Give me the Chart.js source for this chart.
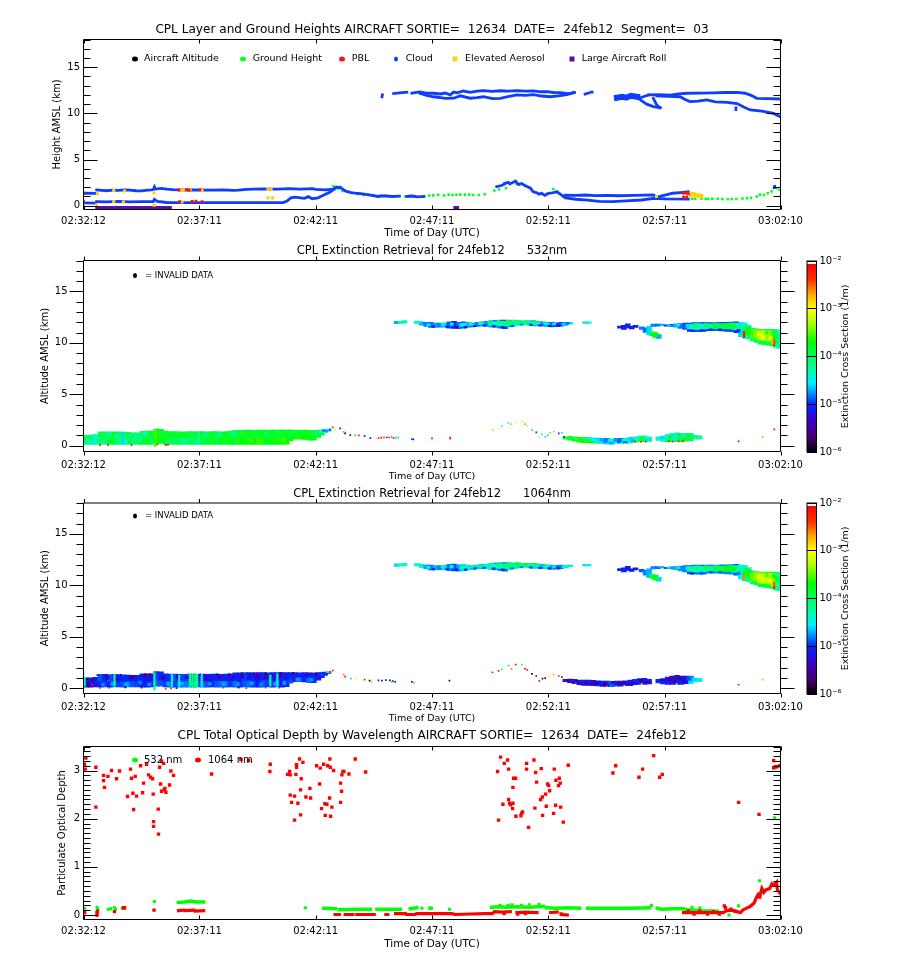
<!DOCTYPE html>
<html>
<head>
<meta charset="utf-8">
<title>CPL Layer and Extinction Curtains</title>
<script src="https://cdn.jsdelivr.net/npm/chart.js@4"></script>
<style>
  html, body { margin: 0; padding: 0; background: #fff; }
  #page { position: relative; width: 900px; height: 970px; overflow: hidden; }
  canvas { position: absolute; left: 0; }
</style>
</head>
<body>
<div id="page"></div>
<script>
// x values are seconds after 02:32:12
const timeTicks = [0, 299, 599, 899, 1199, 1499, 1798];
const timeLabels = ["02:32:12", "02:37:11", "02:42:11", "02:47:11", "02:52:11", "02:57:11", "03:02:10"];
const heightMajor = [0, 5, 10, 15];
const heightMinor = [0, 1, 2, 3, 4, 5, 6, 7, 8, 9, 10, 11, 12, 13, 14, 15, 16, 17, 18];
const depthMajor = [0, 1, 2, 3];
const depthMinor = [0, .1, .2, .3, .4, .5, .6, .7, .8, .9, 1, 1.1, 1.2, 1.3, 1.4, 1.5, 1.6, 1.7, 1.8, 1.9, 2, 2.1, 2.2, 2.3, 2.4, 2.5, 2.6, 2.7, 2.8, 2.9, 3, 3.1, 3.2, 3.3, 3.4, 3.5];

// ---- panel 1: layer heights, km ----
const cloudLowTop = [
  [[0, 1.35], [30, 1.33]],
  [[34, 1.7], [48, 1.66], [60, 1.62], [75, 1.68], [90, 1.66], [105, 1.72], [120, 1.68], [135, 1.62], [150, 1.6], [165, 1.68], [175, 1.72], [180, 1.75], [183, 2.05], [186, 1.8], [200, 1.88], [215, 1.8], [230, 1.74], [265, 1.7], [300, 1.72], [330, 1.68], [360, 1.72], [385, 1.66], [400, 1.68], [420, 1.78], [460, 1.82], [500, 1.8], [530, 1.85], [560, 1.8], [590, 1.84], [600, 1.78], [625, 1.72], [645, 1.8], [650, 1.98], [662, 2.0], [675, 1.6], [690, 1.42], [700, 1.36], [715, 1.3], [728, 1.22], [740, 1.15], [760, 1.0], [775, 1.08], [795, 1.0], [815, 1.04]],
  [[834, 1.0], [848, 1.05], [862, .96], [877, 1.0]],
  [[1066, 2.07], [1076, 2.16], [1084, 2.3]], [[1086, 2.4], [1096, 2.52]], [[1100, 2.36], [1107, 2.5], [1114, 2.68], [1122, 2.3], [1130, 2.4], [1140, 2.15], [1153, 1.9], [1160, 1.5], [1168, 1.42], [1175, 1.25], [1182, 1.35], [1190, 1.12], [1197, 1.3], [1204, 1.35], [1221, 1.5], [1230, 1.25], [1238, 1.0], [1243, 1.15], [1270, 1.12], [1295, 1.16], [1320, 1.1], [1350, 1.13], [1380, 1.08], [1420, 1.12], [1470, 1.18], [1480, .9], [1490, 1.05], [1505, 1.2], [1520, 1.35], [1540, 1.42], [1560, 1.5]]
];
const cloudLowBase = [
  [[0, .3], [30, .28]],
  [[34, .45], [60, .42], [90, .47], [120, .42], [150, .45], [180, .45], [183, .7], [190, .48], [215, .35], [515, .33], [525, .5], [535, .85], [545, .92], [555, .88], [570, .8], [580, .98], [590, .76], [605, .85], [620, 1.15], [635, 1.45], [650, 1.9]],
  [[1243, .85], [1270, .7], [1300, .6], [1330, .48], [1365, .45], [1400, .52], [1440, .62], [1470, .8], [1500, .75], [1560, .72]]
];
const cloudHighTop = [
  [[770, 11.8], [771, 12.0]],
  [[800, 12.15], [815, 12.22], [834, 12.28]],
  [[847, 12.18], [868, 12.32], [885, 12.2], [903, 12.18], [920, 12.1], [933, 12.2], [946, 12.0], [955, 12.3], [963, 12.22], [980, 12.42], [997, 12.28], [1015, 12.4], [1032, 12.46], [1055, 12.38], [1075, 12.45], [1095, 12.4], [1118, 12.46], [1140, 12.42], [1161, 12.44], [1180, 12.34], [1195, 12.36], [1212, 12.26], [1230, 12.25], [1250, 12.14], [1266, 12.25]],
  [[1294, 12.1], [1303, 12.2]], [[1310, 12.3], [1312, 12.3]],
  [[1458, 12.0], [1485, 12.02], [1514, 11.98], [1535, 12.12], [1557, 12.18], [1590, 12.2], [1625, 12.22], [1655, 12.26], [1686, 12.28], [1707, 12.18], [1722, 11.95], [1737, 11.63], [1765, 11.6], [1797, 11.56]]
];
const cloudHighBase = [
  [[868, 12.18], [885, 11.95], [903, 11.8], [918, 11.72], [933, 11.62], [955, 11.64], [972, 11.9], [997, 11.64], [1015, 11.7], [1032, 11.8], [1055, 11.6], [1075, 11.63], [1095, 11.82], [1118, 12.0], [1140, 11.95], [1161, 12.02], [1182, 11.88], [1204, 11.8], [1225, 11.9], [1247, 12.02], [1266, 12.25]],
  [[1432, 11.63], [1440, 11.35], [1453, 11.0], [1470, 10.73], [1488, 10.62]],
  [[1432, 11.63], [1458, 12.0]],
  [[1470, 11.63], [1479, 10.9], [1486, 10.62]],
  [[1479, 11.9], [1510, 11.85], [1539, 11.8], [1552, 11.5], [1565, 11.27], [1585, 11.32], [1608, 11.45], [1630, 11.25], [1660, 11.2], [1686, 11.06], [1703, 10.7], [1720, 10.37], [1750, 10.25], [1780, 10.0], [1797, 9.65]],
  [[1683, 10.4], [1683, 10.6]]
];
const cloudBlob = [[1376, 11.7], [1390, 11.8], [1400, 11.7], [1412, 11.9], [1428, 11.8]];
const cloudDots = [[1782, 1.96], [1783, 2.1]];
const groundDots = [[644, 2.1], [652, 2.05], [658, 1.85], [668, 1.6], [708, 1.25], [722, 1.15], [735, 1.2], [748, 1.1], [765, 1.1], [830, 1.0], [842, 1.05], [880, 1.0], [892, 1.1], [902, 1.12], [915, 1.18], [930, 1.1], [942, 1.2], [952, 1.15], [962, 1.18], [972, 1.2], [984, 1.2], [995, 1.2], [1005, 1.15], [1020, 1.17], [1035, 1.25], [1060, 1.65], [1072, 1.75], [1090, 1.9], [1092, 2.5], [1117, 2.35], [1123, 2.3], [1138, 2.2], [1212, 1.8], [1222, 1.55], [1240, 1.0], [1475, 1.0], [1570, .75], [1578, .75], [1594, .76], [1605, .75], [1612, .72], [1622, .76], [1636, .75], [1648, .73], [1662, .7], [1672, .72], [1684, .72], [1700, .78], [1712, .8], [1722, .85], [1737, 1.0], [1745, 1.2], [1755, 1.17], [1765, 1.35], [1775, 1.55], [1790, 1.9], [1796, 1.7]];
const pblDots = [[0, 1.35], [0, .5], [246, 1.7], [248, .45], [266, 1.75], [272, 1.7], [280, .47], [290, .48], [300, 1.72], [306, .45], [1548, 1.35], [1555, 1.4], [1560, 1.3], [1548, .9], [1556, .95]];
const aerosolDots = [[34, .1], [36, 1.3], [78, 1.65], [78, .45], [103, .4], [106, 1.6], [182, 1.38], [182, .05], [250, 1.7], [254, .4], [258, 1.7], [275, 1.75], [306, 1.65], [476, 1.8], [484, 1.8], [476, .85], [488, .85], [1478, 1.0], [1563, 1.3], [1570, 1.35], [1577, 1.3], [1584, 1.15], [1590, 1.15], [1595, 1.1], [1566, 1.05], [1576, 1.0], [1586, 1.0], [1595, .95]];
const rollSegments = [[[34, -.2], [224, -.2]], [[958, -.2], [965, -.2]]];
const layerNames = ["Aircraft Altitude", "Ground Height", "PBL", "Cloud", "Elevated Aerosol", "Large Aircraft Roll"];
const layerColors = ["#000000", "#00ff22", "#ff0f0f", "#0f3cff", "#ffd010", "#5a0fa0"];

// ---- panels 2 and 3: extinction cells, log10(1/m) ----
// t, base, split, top, lower532, upper532, lower1064, upper1064
const lowLayer = [
  [6, .12, .6, 1.03, -4.1, -4.0, -5.25, -5.0], [18, .12, .55, 1.03, -4.15, -4.05, -5.3, -5.1], [30, .14, .6, 1.08, -4.35, -4.3, -5.2, -5.05],
  [44, .12, .7, 1.36, -3.95, -4.0, -5.0, -4.9], [56, .14, .7, 1.36, -4.05, -3.9, -4.95, -5.05], [68, .12, .7, 1.34, -3.85, -4.1, -5.05, -4.9], [80, .14, .7, 1.36, -4.0, -3.85, -4.85, -5.0], [92, .14, .7, 1.34, -4.15, -3.95, -4.95, -5.1],
  [104, .12, .7, 1.32, -4.25, -4.05, -4.9, -5.0], [116, .14, .7, 1.3, -3.9, -3.95, -4.8, -5.05], [128, .14, .7, 1.26, -4.1, -3.9, -4.9, -5.15], [140, .14, .72, 1.26, -3.95, -4.05, -4.95, -5.05], [152, .12, .75, 1.4, -3.8, -4.0, -5.0, -5.1],
  [164, .12, .75, 1.42, -3.9, -3.95, -5.05, -5.2], [176, .14, .78, 1.42, -4.05, -3.85, -5.0, -5.15], [188, .2, .8, 1.62, -3.7, -3.75, -4.85, -4.95], [200, .22, .8, 1.6, -3.75, -3.85, -4.9, -5.0], [212, .14, .78, 1.42, -3.8, -3.85, -4.95, -5.0],
  [224, .12, .72, 1.38, -3.95, -3.8, -4.85, -5.05], [236, .12, .72, 1.38, -4.0, -3.85, -4.95, -4.9], [248, .12, .72, 1.36, -3.9, -3.95, -4.85, -5.05], [260, .12, .72, 1.36, -4.15, -3.85, -4.8, -4.95], [272, .12, .72, 1.38, -4.0, -3.95, -4.8, -4.9], [284, .12, .72, 1.38, -3.95, -3.9, -4.8, -5.0],
  [296, .14, .72, 1.36, -4.1, -3.8, -4.95, -5.1], [308, .12, .74, 1.38, -3.9, -3.85, -4.85, -5.0], [320, .12, .72, 1.36, -3.85, -3.95, -4.9, -5.2], [332, .14, .72, 1.38, -3.95, -3.8, -5.0, -5.1], [344, .12, .75, 1.38, -3.85, -3.9, -4.9, -5.05], [356, .12, .75, 1.36, -3.8, -3.95, -4.85, -5.1],
  [368, .12, .75, 1.38, -3.9, -3.8, -4.85, -5.05], [380, .14, .75, 1.42, -3.75, -3.9, -4.95, -5.15], [392, .12, .78, 1.5, -3.85, -4.0, -4.85, -5.05], [404, .12, .78, 1.5, -3.75, -3.85, -5.0, -5.1], [416, .14, .78, 1.52, -3.7, -3.9, -4.9, -4.95], [428, .12, .8, 1.52, -3.65, -3.8, -4.85, -5.15],
  [440, .12, .8, 1.5, -3.7, -3.85, -4.95, -5.05], [452, .12, .8, 1.52, -3.6, -3.9, -5.05, -5.2], [464, .12, .82, 1.52, -3.65, -3.75, -4.9, -5.1], [476, .14, .82, 1.5, -3.8, -3.85, -4.95, -5.0], [488, .12, .82, 1.54, -3.7, -3.8, -5.0, -5.15], [500, .14, .82, 1.52, -3.75, -3.9, -4.85, -5.1], [512, .12, .85, 1.54, -3.65, -3.85, -5.05, -5.05], [524, .16, .85, 1.52, -3.75, -3.8, -5.0, -5.15],
  [534, .5, .95, 1.54, -3.75, -3.85, -4.9, -5.05], [546, .65, 1.05, 1.52, -3.7, -3.9, -5.0, -5.15], [558, .65, 1.05, 1.5, -3.8, -3.75, -4.85, -5.05], [570, .62, 1.05, 1.52, -3.7, -3.85, -5.0, -5.1], [582, .55, 1.05, 1.5, -3.85, -3.8, -4.85, -5.0], [594, .55, 1.05, 1.5, -3.75, -3.95, -5.0, -5.1], [606, .8, 1.1, 1.52, -3.85, -4.0, -5.1, -5.2], [615, 1.03, 1.25, 1.55, -3.9, -4.3, -5.05, -4.95], [623, 1.26, 1.4, 1.58, -4.35, -4.8, -5.0, -5.1], [632, 1.45, 1.52, 1.62, -5.0, -4.5, -5.2, -3.9],
  [1243, .65, .76, .87, -3.9, -3.8, -5.35, -5.2], [1255, .55, .72, .91, -3.7, -3.85, -5.3, -5.2], [1267, .45, .68, .87, -3.75, -4.0, -5.25, -5.15], [1279, .35, .6, .81, -3.7, -3.75, -5.3, -5.05], [1291, .29, .55, .81, -3.75, -3.95, -5.15, -5.1], [1303, .29, .55, .81, -3.7, -4.2, -5.3, -5.05], [1315, .26, .5, .78, -3.85, -4.5, -5.2, -5.25],
  [1327, .23, .48, .74, -4.25, -4.6, -5.1, -5.2], [1339, .19, .45, .71, -4.5, -4.7, -5.25, -5.05], [1351, .16, .42, .71, -4.6, -4.8, -5.2, -5.1], [1363, .16, .42, .68, -4.7, -4.5, -4.85, -5.2], [1375, .22, .44, .71, -4.5, -4.75, -4.95, -5.1], [1387, .22, .44, .71, -4.55, -4.85, -5.1, -5.3], [1399, .26, .5, .74, -4.8, -4.4, -5.15, -5.2],
  [1411, .26, .52, .81, -4.3, -4.6, -5.2, -5.05], [1423, .35, .6, .87, -4.1, -4.5, -5.1, -5.0], [1435, .39, .65, .94, -4.0, -4.2, -5.05, -5.15], [1447, .39, .68, .97, -3.9, -4.3, -5.15, -5.05], [1459, .42, .65, .87, -4.05, -4.35, -5.2, -5.1], [1483, .52, .7, .87, -4.5, -4.3, -4.95, -5.15], [1495, .42, .68, .94, -4.35, -4.6, -5.0, -5.2],
  [1507, .39, .72, 1.1, -3.95, -4.5, -5.1, -5.2], [1519, .39, .75, 1.2, -4.0, -4.25, -5.1, -5.25], [1531, .39, .78, 1.26, -3.95, -4.4, -5.05, -5.2], [1543, .39, .78, 1.2, -3.85, -4.3, -5.0, -5.25], [1555, .45, .8, 1.2, -3.9, -4.2, -5.1, -5.1], [1567, .49, .8, 1.2, -3.95, -4.15, -4.6, -4.8], [1577, .65, .8, 1.0, -4.3, -4.1, -4.55, -4.6], [1589, .65, .8, .97, -4.25, -4.15, -4.5, -4.55]
];
// t, base, top, value: one-column stripes
const stripes532 = [[28, .12, 1.1, -4.5], [101, .16, 1.3, -4.6], [185, -.1, 1.5, -3.5], [191, .1, 1.65, -3.65], [297, .14, 1.36, -4.25], [134, .2, 1.25, -4.2], [1704, 10.5, 11.1, -2.2], [1781, 9.7, 10.3, -2.35], [1777, 9.9, 10.4, -2.7]];
const stripes1064 = [[3, .2, 1.0, -4.3], [80, .2, 1.35, -4.2], [183, -.15, 1.5, -4.15], [228, .15, 1.35, -4.5], [247, .15, 1.3, -4.4], [275, .14, 1.38, -4.1], [281, .14, 1.38, -4.15], [287, .14, 1.4, -4.05], [293, .14, 1.38, -4.2], [305, .14, 1.35, -4.45], [482, .2, 1.3, -4.2], [500, .2, 1.4, -4.4], [1704, 10.5, 11.1, -2.6], [1781, 9.7, 10.3, -2.3], [1777, 9.9, 10.4, -2.8]];
// small patches inside the low layer: t, base, top, value532, value1064
const lowSpecks = [
  [12, .3, .6, -4.4, -5.5], [24, .7, .95, -3.9, -5.5], [50, .2, .5, -4.3, -4.8], [62, .9, 1.2, -4.2, -5.4], [74, .3, .55, -3.7, -4.7], [86, .85, 1.1, -4.3, -5.4], [110, .25, .55, -4.4, -4.7], [122, .9, 1.15, -4.2, -5.5], [146, .4, .7, -4.3, -4.8], [158, 1.1, 1.3, -4.4, -5.5], [170, .25, .5, -3.75, -4.75], [206, .9, 1.2, -3.65, -5.5], [218, .3, .6, -4.2, -4.7], [242, 1.0, 1.25, -3.65, -5.4], [254, .35, .6, -4.3, -4.7], [266, .95, 1.2, -3.7, -5.3], [290, .35, .55, -4.3, -4.5], [314, .9, 1.2, -4.2, -5.4], [326, .3, .55, -3.65, -4.75], [350, .95, 1.25, -4.2, -5.35], [362, .3, .6, -3.6, -4.7], [386, 1.0, 1.25, -4.2, -5.35], [398, .25, .55, -3.6, -4.75], [410, 1.0, 1.3, -3.6, -5.4], [434, .35, .6, -3.55, -4.7], [446, 1.05, 1.35, -3.65, -5.35], [458, .2, .5, -3.55, -4.8], [470, 1.0, 1.3, -4.1, -5.4], [494, .3, .55, -3.6, -4.7], [506, 1.05, 1.35, -3.65, -5.4], [518, .35, .7, -3.55, -4.75], [552, .75, 1.0, -3.6, -4.75], [576, 1.1, 1.35, -3.65, -5.35], [588, .7, .95, -3.65, -4.75],
  [1249, .7, .82, -3.55, -5.6], [1273, .55, .75, -3.55, -5.5], [1297, .4, .6, -3.6, -5.5], [1321, .4, .6, -4.5, -5.6], [1345, .3, .5, -4.8, -5.5], [1357, .5, .65, -4.3, -4.9], [1381, .3, .5, -4.9, -5.5], [1393, .5, .65, -4.3, -5.5], [1417, .4, .6, -4.7, -5.5], [1441, .6, .85, -3.85, -5.5], [1453, .5, .7, -4.6, -5.5], [1513, .7, .95, -3.75, -5.5], [1525, .55, .8, -4.5, -5.5], [1537, .9, 1.15, -3.8, -5.5], [1549, .55, .75, -3.7, -5.5], [1561, .8, 1.1, -3.75, -4.9]
];
// t, base, top, value532, value1064
const cloudOuter = [
  [808, 11.85, 12.1, -4.7, -4.6], [818, 11.88, 12.1, -4.5, -4.5], [828, 11.9, 12.15, -4.3, -4.3],
  [860, 11.88, 12.12, -4.4, -4.5], [872, 11.72, 12.05, -4.7, -4.55], [884, 11.6, 12.0, -4.8, -4.7], [896, 11.5, 11.98, -4.85, -4.8], [908, 11.5, 11.92, -4.75, -4.7], [920, 11.52, 11.92, -4.8, -4.8], [932, 11.5, 11.95, -4.6, -4.6], [944, 11.42, 12.05, -4.9, -4.8], [956, 11.4, 12.08, -5.0, -4.9], [968, 11.38, 12.0, -4.85, -4.75],
  [980, 11.42, 12.05, -4.9, -4.6], [992, 11.5, 11.98, -4.7, -4.5], [1004, 11.55, 11.92, -4.85, -4.7], [1016, 11.6, 12.0, -4.8, -4.6], [1028, 11.63, 12.05, -4.75, -4.7], [1040, 11.6, 12.08, -4.8, -4.55], [1052, 11.52, 12.15, -4.7, -4.6], [1064, 11.5, 12.18, -4.8, -4.7], [1076, 11.42, 12.2, -4.85, -4.8], [1088, 11.38, 12.22, -4.9, -4.85], [1100, 11.55, 12.22, -4.7, -4.6],
  [1112, 11.62, 12.2, -4.55, -4.5], [1124, 11.7, 12.18, -4.5, -4.6], [1136, 11.75, 12.15, -4.45, -4.5], [1148, 11.72, 12.15, -4.6, -4.55], [1160, 11.65, 12.15, -4.7, -4.6], [1172, 11.65, 12.1, -4.7, -4.65], [1184, 11.62, 12.05, -4.8, -4.7], [1196, 11.6, 12.0, -4.75, -4.6], [1208, 11.55, 11.98, -4.85, -4.7], [1220, 11.58, 11.95, -4.95, -4.85], [1232, 11.62, 11.98, -4.9, -4.8], [1244, 11.7, 11.98, -4.75, -4.5], [1256, 11.82, 11.98, -4.55, -4.4],
  [1294, 11.88, 12.05, -4.6, -4.6], [1303, 11.88, 12.05, -4.4, -4.5],
  [1384, 11.42, 11.62, -5.1, -5.1], [1394, 11.3, 11.7, -5.15, -5.0], [1404, 11.45, 11.85, -5.0, -5.1], [1414, 11.35, 11.6, -5.2, -5.15], [1424, 11.5, 11.7, -5.05, -5.1],
  [1440, 11.3, 11.55, -4.8, -4.9], [1450, 11.0, 11.45, -4.85, -4.8], [1459, 10.78, 11.6, -4.6, -4.7], [1468, 10.7, 11.1, -4.4, -4.5], [1476, 10.5, 11.0, -3.85, -3.9], [1484, 10.42, 10.8, -4.7, -4.6], [1470, 11.6, 11.82, -4.8, -4.8], [1482, 11.62, 11.82, -4.85, -4.85], [1491, 11.7, 11.82, -4.7, -4.7],
  [1504, 11.63, 11.76, -5.0, -4.9], [1516, 11.6, 11.8, -4.9, -4.8], [1528, 11.52, 11.85, -4.7, -4.7], [1540, 11.4, 11.88, -4.8, -4.75], [1552, 11.3, 11.92, -4.9, -4.8], [1564, 11.12, 11.92, -5.0, -4.9], [1576, 11.08, 11.96, -4.95, -4.85], [1588, 11.08, 11.96, -4.9, -4.8], [1600, 11.1, 11.96, -5.0, -4.85], [1612, 11.18, 11.96, -4.95, -4.8], [1624, 11.18, 11.96, -4.9, -4.8], [1636, 11.18, 11.98, -4.85, -4.75], [1648, 11.15, 12.0, -4.9, -4.85], [1660, 11.12, 12.0, -4.95, -4.8], [1672, 11.08, 12.02, -4.9, -4.75], [1684, 10.98, 12.05, -5.0, -4.9],
  [1696, 10.6, 12.0, -4.6, -4.55], [1706, 10.43, 11.95, -4.5, -4.4], [1716, 10.35, 11.73, -4.3, -4.3], [1726, 10.15, 11.42, -4.15, -4.1], [1736, 10.05, 11.35, -4.0, -3.95], [1746, 9.88, 11.3, -3.95, -3.9], [1756, 9.82, 11.3, -3.9, -3.85], [1766, 9.78, 11.3, -3.9, -3.85], [1776, 9.7, 11.3, -3.95, -3.9], [1786, 9.55, 11.28, -4.05, -4.0], [1795, 9.46, 11.24, -4.3, -4.3]
];
const cloudCore = [
  [980, 11.62, 11.9, -4.55, -4.3], [1004, 11.7, 11.85, -4.5, -4.35], [1028, 11.75, 11.95, -4.35, -4.2], [1052, 11.7, 12.05, -4.3, -4.25], [1064, 11.7, 12.05, -4.35, -4.3], [1076, 11.65, 12.1, -4.25, -4.2], [1088, 11.62, 12.1, -4.2, -4.15], [1100, 11.7, 12.12, -4.1, -4.1], [1112, 11.78, 12.12, -4.05, -4.05], [1124, 11.82, 12.1, -4.0, -3.95], [1136, 11.85, 12.08, -4.05, -4.0], [1148, 11.85, 12.08, -4.15, -4.1], [1160, 11.8, 12.05, -4.2, -4.2], [1172, 11.8, 12.02, -4.3, -4.3], [1196, 11.75, 11.92, -4.4, -4.3],
  [1466, 10.72, 11.0, -3.85, -3.8], [1474, 10.6, 10.95, -3.7, -3.75],
  [1564, 11.35, 11.82, -4.4, -4.3], [1576, 11.3, 11.85, -4.3, -4.25], [1588, 11.3, 11.85, -4.4, -4.3], [1600, 11.32, 11.85, -4.3, -4.25], [1612, 11.38, 11.85, -4.2, -4.2], [1624, 11.38, 11.85, -4.1, -4.1], [1636, 11.38, 11.88, -4.0, -4.0], [1648, 11.38, 11.88, -3.95, -3.9], [1660, 11.35, 11.9, -3.85, -3.75], [1672, 11.3, 11.92, -3.95, -3.9], [1684, 11.25, 11.92, -4.2, -4.15],
  [1706, 10.7, 11.65, -3.9, -3.85], [1716, 10.6, 11.5, -3.75, -3.75], [1726, 10.4, 11.3, -3.55, -3.5], [1736, 10.3, 11.25, -3.4, -3.35], [1746, 10.25, 11.2, -3.3, -3.25], [1756, 10.2, 11.2, -3.2, -3.2], [1766, 10.15, 11.2, -3.35, -3.25], [1776, 10.1, 11.15, -3.45, -3.35], [1786, 10.0, 11.1, -3.7, -3.5], [1795, 10.2, 11.1, -4.5, -4.4]
];
// small patches inside the cloud: t, base, top, value532, value1064
const cloudSpecks = [
  [866, 11.9, 12.1, -4.3, -4.2], [890, 11.65, 11.85, -4.5, -4.3], [902, 11.5, 11.65, -5.1, -5.0], [926, 11.7, 11.9, -4.4, -4.3], [938, 11.5, 11.65, -5.2, -5.0], [950, 11.7, 11.95, -4.4, -4.3], [962, 11.42, 11.6, -5.3, -5.1], [974, 11.6, 11.85, -4.4, -4.3],
  [986, 11.45, 11.6, -5.2, -5.0], [998, 11.75, 11.95, -4.3, -4.1], [1010, 11.58, 11.72, -5.1, -4.9], [1022, 11.85, 12.0, -4.3, -4.1], [1034, 11.65, 11.78, -5.05, -4.9], [1046, 11.88, 12.05, -4.2, -4.1], [1058, 11.55, 11.7, -5.1, -5.0], [1070, 11.98, 12.15, -4.1, -4.0], [1082, 11.42, 11.6, -5.2, -5.1], [1094, 11.95, 12.18, -3.95, -3.95], [1106, 11.58, 11.72, -4.9, -4.8], [1118, 11.98, 12.18, -3.95, -3.85], [1130, 11.72, 11.82, -4.8, -4.8], [1142, 11.98, 12.13, -3.9, -3.85], [1154, 11.68, 11.82, -5.0, -4.9], [1166, 11.92, 12.12, -3.95, -3.95], [1178, 11.65, 11.78, -5.1, -5.0], [1190, 11.85, 12.02, -4.2, -4.1], [1202, 11.58, 11.72, -5.15, -5.1], [1214, 11.75, 11.92, -4.4, -4.3], [1226, 11.6, 11.72, -5.25, -5.1], [1238, 11.72, 11.9, -4.6, -4.2], [1250, 11.85, 11.95, -4.95, -4.3],
  [1510, 11.65, 11.75, -4.5, -4.4], [1534, 11.65, 11.8, -4.4, -4.3], [1558, 11.5, 11.8, -4.6, -4.5], [1570, 11.1, 11.25, -5.2, -5.1], [1582, 11.55, 11.9, -4.0, -4.0], [1594, 11.1, 11.28, -5.15, -4.9], [1606, 11.55, 11.9, -4.05, -3.95], [1618, 11.2, 11.36, -5.1, -4.95], [1630, 11.5, 11.92, -3.9, -3.85], [1642, 11.2, 11.35, -5.05, -4.9], [1654, 11.6, 11.75, -3.65, -3.6], [1666, 11.15, 11.3, -4.9, -4.8], [1678, 11.45, 11.7, -3.8, -3.7], [1690, 11.05, 11.3, -5.0, -4.8], [1700, 11.3, 11.7, -4.2, -4.1], [1711, 10.5, 10.75, -4.35, -4.25], [1722, 11.0, 11.3, -3.6, -3.55], [1732, 10.2, 10.4, -3.95, -3.85], [1742, 10.7, 11.0, -3.05, -3.05], [1752, 10.4, 10.7, -3.05, -3.1], [1762, 10.85, 11.15, -3.6, -3.5], [1772, 10.3, 10.6, -3.1, -3.1], [1782, 10.7, 11.0, -3.85, -3.7], [1791, 10.4, 10.8, -3.9, -3.8]
];
// t, km, value
const sparse532 = [[43, .05, -2.2], [63, .05, -2.2], [124, .05, -2.2], [212, .05, -2.2], [218, .08, -2.2], [190, .12, -2.4], [636, 1.59, -4.9], [643, 1.78, -2.3], [649, 1.6, -3], [662, 1.68, -5.4], [671, 1.35, -3.8], [675, 1.2, -5.9], [688, 1.03, -5.6], [701, 1.0, -3.7], [710, 1.0, -2.2], [725, .94, -5.7], [740, .74, -5], [761, .74, -2.3], [768, .78, -2.2], [775, .78, -2.5], [782, .82, -4.9], [788, .8, -2.2], [795, .85, -4.8], [800, .74, -2.3], [806, .78, -4.6], [812, .78, -4.5], [847, .65, -4.9], [851, .62, -5.2], [899, .71, -2.2], [946, .78, -2.2], [946, .7, -2.3],
  [1056, 1.52, -3.3], [1071, 1.68, -3.1], [1079, 1.9, -4.5], [1096, 2.23, -4.4], [1104, 2.1, -3.5], [1116, 2.3, -3.05], [1132, 2.36, -3.1], [1139, 2.1, -3.6], [1145, 1.94, -3.3], [1157, 1.52, -4.6], [1168, 1.3, -5], [1176, .87, -3.1], [1182, 1.1, -4.4], [1191, .87, -4.5], [1198, 1.0, -4.6], [1204, 1.26, -3.5], [1213, 1.36, -2.7], [1226, 1.2, -5], [1234, 1.26, -4.6], [1240, .87, -5], [1423, .4, -2.3], [1438, .38, -2.4], [1450, .4, -2.3], [1510, .42, -2.2], [1520, .4, -2.4], [1535, .42, -2.2], [1546, .42, -2.3], [1690, .42, -2.1], [1752, .87, -2.7], [1782, 1.59, -2.1]];
const sparse1064 = [[43, .05, -2.3], [66, .08, -2.2], [212, -.02, -2.2], [226, 0, -2.2], [240, .03, -5.6], [420, .02, -2.2], [636, 1.6, -2.2], [643, 1.72, -2.2], [671, 1.33, -2.6], [675, 1.14, -2.2], [690, .95, -4.5], [703, .95, -3], [725, .85, -2.2], [738, .75, -5.9], [742, .65, -2.7], [761, .78, -5.5], [770, .75, -5.7], [780, .8, -5.6], [790, .78, -5.8], [798, .7, -5.4], [795, .62, -4], [804, .62, -5], [847, .62, -5.3], [852, .55, -3.8], [944, .75, -5.8],
  [1055, 1.55, -2.2], [1071, 1.7, -2.2], [1079, 1.85, -3.9], [1096, 2.2, -3.9], [1104, 1.9, -2.6], [1115, 2.3, -2.2], [1131, 2.3, -4.3], [1139, 1.9, -2.2], [1145, 1.8, -2.2], [1157, 1.4, -5.9], [1168, 1.2, -5.8], [1176, .72, -2.2], [1184, .95, -5.9], [1191, 1.0, -5.4], [1200, 1.15, -2.9], [1213, 1.33, -2.7], [1226, 1.2, -2.2], [1234, 1.1, -5.8], [1690, .35, -2.1], [1752, .85, -2.7],
  [10, .9, -5.9], [36, 1.28, -5.8], [60, 1.3, -5.7], [96, 1.28, -5.9], [130, 1.2, -5.8], [160, 1.38, -5.7], [172, 1.35, -5.9], [300, 1.34, -5.8], [345, 1.35, -5.9], [375, 1.38, -5.7], [408, 1.45, -5.9], [440, 1.48, -5.8], [470, 1.48, -5.9], [510, 1.5, -5.8], [540, 1.48, -5.9], [580, 1.45, -5.7], [600, 1.42, -5.9], [14, .2, -5.8], [22, .35, -2.3], [108, .1, -5.9], [150, .08, -5.7], [360, .06, -2.3], [400, .08, -5.8], [470, .06, -2.3], [505, .08, -2.2], [1270, .5, -2.3], [1350, .18, -2.6], [1395, .24, -3.1], [1440, .42, -3.2], [1530, .42, -2.9]];
// log10 value -> colour
const colorStops = [[-6, 0, 0, 0], [-5.7, 70, 0, 110], [-5.35, 60, 0, 200], [-5, 0, 40, 255], [-4.55, 0, 240, 255], [-4.25, 0, 255, 160], [-3.95, 0, 255, 80], [-3.7, 0, 255, 0], [-3.3, 170, 255, 0], [-3, 255, 255, 0], [-2.7, 255, 170, 0], [-2.4, 255, 50, 0], [-2.06, 255, 0, 0]];

// ---- panel 4: optical depth ----
const depth1064Dots = [[2.7, 3.13], [6.1, 3.26], [4.4, 3.03], [31.9, 3.07], [31.9, 2.24], [51.7, 2.9], [51.7, 2.79], [54.3, 2.65], [62.9, 2.88], [72.3, 3.0], [85.2, 2.83], [93, 2.99], [113.6, 2.46], [121.4, 3.03], [123.9, 2.84], [127.4, 2.53], [129.1, 2.19], [133.4, 2.88], [136.8, 2.47], [147.2, 3.1], [152.3, 2.54], [154.9, 2.74], [162.6, 3.13], [167.8, 2.91], [173, 2.86], [178.1, 2.83], [179.8, 2.51], [180.7, 1.94], [180.7, 1.84], [192.7, 2.2], [193.6, 1.68], [196.2, 3.07], [198.8, 2.72], [201.3, 3.2], [201.3, 2.57], [206.5, 3.15], [209.9, 2.63], [208.2, 2.6], [212.5, 2.55], [222, 2.7], [225.4, 2.99], [232.3, 2.9], [330.3, 2.93], [406, 3.23], [425.8, 3.21], [480.8, 2.98], [481.7, 3.13],
  [526.4, 2.92], [531.6, 2.98], [533.3, 2.91], [533.3, 2.49], [536.7, 2.34], [544.5, 2.47], [544.5, 1.97], [547.9, 2.92], [549.6, 3.12], [549.6, 3.07], [553.1, 2.32], [557.4, 3.24], [560, 2.6], [560, 2.08], [561.7, 2.83], [566, 3.17], [573.7, 2.45], [584, 2.63], [585.8, 2.43], [601.2, 3.1], [609, 2.72], [610.7, 3.05], [614.1, 2.21], [619.3, 3.13], [622.7, 2.31], [623.6, 2.07], [627.9, 2.3], [629.6, 3.1], [634.8, 2.43], [635.6, 3.24], [636.5, 3.07], [637.4, 2.05], [640.8, 2.24], [645.1, 3.0], [663.2, 2.74], [663.2, 2.34], [665.7, 2.57], [666.6, 2.91], [669.2, 2.98], [671.8, 2.98], [684.7, 2.93], [701, 3.24], [727.7, 2.97],
  [1068.2, 2.98], [1076, 3.28], [1085.4, 3.15], [1094, 3.22], [1096.6, 3.03], [1082, 2.3], [1096.6, 2.4], [1099.2, 2.32], [1101.8, 2.29], [1107.8, 2.32], [1106.9, 2.21], [1107.8, 2.65], [1109.5, 2.84], [1114.7, 2.84], [1115.5, 2.05], [1128.4, 2.06], [1130.1, 2.11], [1132.7, 2.14], [1143, 3.15], [1143, 3.03], [1148.2, 1.82], [1070.8, 1.97], [1162, 3.22], [1166.3, 2.96], [1168.8, 2.76], [1164.5, 2.22], [1179.2, 2.4], [1183.5, 2.45], [1180.9, 3.04], [1184.3, 2.07], [1192, 2.51], [1193.8, 2.26], [1197.2, 2.72], [1199.8, 2.69], [1202.4, 2.58], [1212.7, 2.11], [1214.4, 3.03], [1217.9, 2.28], [1218.7, 2.8], [1225.6, 2.69], [1227.3, 2.84], [1229.9, 2.74], [1230.8, 2.24], [1237.6, 1.93], [1250.5, 3.11], [1365.8, 2.95], [1372.7, 3.1], [1432.9, 2.86], [1442.3, 3.03], [1470.7, 3.31], [1486.2, 2.86], [1493, 2.92], [1690, 2.34], [1742.5, 2.09], [1780.3, 3.21], [1780.3, 3.06], [1784.6, 3.08], [1788.9, 3.08], [1796, 3.1],
  [0, .05], [3, .05], [35, 0], [35, .05], [36, .08], [80, .07], [103, .15], [106, .15], [182, .1], [1653, .19], [1656, .15], [1670, .12], [1680, .08], [1120, .02], [1140, .03], [1085, .03], [1232, .02], [1560, .08], [1575, .02], [1590, .08], [1610, .02], [1625, .07], [1640, .02]];
const depth1064Bands = [
  [[245, .09], [258, .1]], [[262, .09], [285, .1]], [[288, .08], [310, .09]],
  [[649, .01], [660, .01]], [[675, .01], [695, .01]], [[705, .01], [730, .01]], [[738, .01], [750, .01]], [[780, .01], [785, .01]],
  [[805, .03], [830, .03]], [[834, .01], [855, .01]], [[860, .03], [894, .03], [950, .03], [958, .01], [1000, .02], [1035, .03], [1055, .03], [1060, .07], [1080, .06], [1101, .07]], [[1118, .05], [1140, .06], [1170, .05]], [[1205, .05], [1222, .06]], [[1234, .01], [1248, 0]],
  [[1548, .05], [1600, .05], [1650, .05], [1660, .09], [1672, .1], [1682, .08], [1690, .06], [1695, .05], [1700, .1], [1720, .18], [1730, .25], [1735, .35], [1740, .42], [1743, .37], [1745, .4], [1750, .55], [1755, .47], [1760, .52], [1770, .55], [1776, .65], [1781, .62], [1788, .68], [1790, .52], [1797, .45]]
];
const depth532Dots = [[0, .12], [3, .14], [35, .16], [37, .12], [64, .12], [70, .13], [80, .15], [82, .12], [100, .14], [104, .14], [183, .28], [572, .15], [873, .14], [898, .14], [944, .12], [1465, .2], [1690, .19], [1744, .71], [1783, 2.02], [1783, 3.06], [1075, .2], [1095, .2], [1105, .21], [1130, .2], [1150, .21], [1175, .22], [1570, .16], [1590, .15], [1620, .05], [1665, .0]];
const depth532Bands = [
  [[245, .26], [260, .27], [275, .29], [290, .27], [310, .27]], [[620, .14], [650, .13]], [[660, .11], [700, .12], [740, .12]], [[757, .12], [817, .12]], [[843, .13], [860, .15]], [[894, .14], [896, .14]],
  [[1053, .16], [1070, .17], [1090, .16], [1120, .17], [1150, .16], [1187, .18]], [[1195, .15], [1220, .14], [1250, .15], [1280, .14]], [[1300, .14], [1350, .14]], [[1358, .14], [1410, .14], [1460, .15]], [[1480, .14], [1490, .12], [1520, .13], [1548, .13]], [[1555, .11], [1595, .09], [1635, .08]]
];

const sansFont = "'DejaVu Sans', sans-serif";
const xy = pts => pts.map(p => ({ x: p[0], y: p[1] }));

function exColor(v) {
  if (v > -2.06) return "#ffffff";
  for (let i = 1; i < colorStops.length; i++) {
    const a = colorStops[i - 1], b = colorStops[i];
    if (v <= b[0]) {
      const f = (v - a[0]) / (b[0] - a[0]);
      return "rgb(" + [1, 2, 3].map(k => Math.round(a[k] + (b[k] - a[k]) * f)).join(",") + ")";
    }
  }
  return "#ff0000";
}

function lineSets(segments, color, width) {
  return segments.map(seg => ({
    type: "scatter", showLine: true, data: xy(seg), borderColor: color, borderWidth: width,
    borderCapStyle: "square", pointRadius: 0, tension: 0,
  }));
}
function dotSet(pts, color, radius) {
  return { type: "scatter", data: xy(pts), pointStyle: "rect", pointRadius: radius, pointBackgroundColor: color, pointBorderWidth: 0 };
}
function barSet(rows, lo, hi, val, width) {
  return {
    type: "bar", grouped: false, barThickness: width, borderWidth: 0,
    data: rows.map(r => ({ x: r[0], y: [r[lo], r[hi]] })),
    backgroundColor: rows.map(r => exColor(r[val])),
  };
}

// IDL style frame: ticks on all four sides, drawn at the scale's own pixels
const idlFrame = {
  id: "idlFrame",
  afterDraw(chart, args, o) {
    const ctx = chart.ctx, a = chart.chartArea, xs = chart.scales.x, ys = chart.scales.y;
    const dir = o.outward ? -1 : 1;
    ctx.save();
    ctx.strokeStyle = "#000";
    ctx.lineWidth = 1;
    ctx.beginPath();
    ctx.rect(a.left, a.top, a.right - a.left, a.bottom - a.top);
    o.minor.forEach(v => {
      const len = o.major.includes(v) ? 14 : 7, y = Math.round(ys.getPixelForValue(v)) + .5;
      ctx.moveTo(a.left, y); ctx.lineTo(a.left + dir * len, y);
      ctx.moveTo(a.right, y); ctx.lineTo(a.right - dir * len, y);
    });
    timeTicks.forEach(v => {
      const x = Math.round(xs.getPixelForValue(v)) + .5;
      ctx.moveTo(x, a.bottom); ctx.lineTo(x, a.bottom - dir * 4);
      ctx.moveTo(x, a.top); ctx.lineTo(x, a.top + dir * 4);
    });
    ctx.stroke();
    ctx.font = o.noteSize + "px " + sansFont;
    ctx.textBaseline = "middle";
    o.notes.forEach(n => {
      ctx.fillStyle = n.color;
      if (n.square) ctx.fillRect(n.dot - 2.5, n.y - 2.5, 5, 5);
      else { ctx.beginPath(); ctx.ellipse(n.dot, n.y, n.w || 3, 2.5, 0, 0, 7); ctx.fill(); }
      ctx.fillStyle = "#000";
      ctx.fillText(n.text, n.textX, n.y);
    });
    ctx.restore();
  },
};

function makePanel(p) {
  const canvas = document.createElement("canvas");
  const top = p.titleY - 21, bottom = p.xTitleY + 10;
  canvas.style.top = top + "px";
  canvas.width = 900;
  canvas.height = bottom - top;
  document.getElementById("page").appendChild(canvas);
  const titleSize = p.titleSize;
  new Chart(canvas, {
    type: p.type,
    data: { datasets: p.datasets },
    plugins: [idlFrame],
    options: {
      responsive: false, animation: false, devicePixelRatio: 1,
      layout: { padding: { right: 119.5 } },
      scales: {
        x: {
          type: "linear", min: 0, max: 1798, offset: false,
          grid: { display: false, drawTicks: false }, border: { display: false },
          afterBuildTicks: s => { s.ticks = timeTicks.map(v => ({ value: v })); },
          afterFit: s => { s.height = bottom - p.plotBottom; },
          ticks: {
            autoSkip: false, maxRotation: 0, minRotation: 0, color: "#000", padding: p.xTickPad,
            font: { family: sansFont, size: 10, lineHeight: 1 },
            callback: v => timeLabels[timeTicks.indexOf(v)],
          },
          title: { display: true, text: "Time of Day (UTC)", color: "#000", padding: { top: 0, bottom: 10 - p.xTitleSize / 2 }, font: { family: sansFont, size: p.xTitleSize, lineHeight: 1 } },
        },
        y: {
          type: "linear", min: p.yMin, max: p.yMax,
          grid: { display: false, drawTicks: false }, border: { display: false },
          afterBuildTicks: s => { s.ticks = p.major.map(v => ({ value: v })); },
          afterFit: s => { s.width = 83.5; },
          ticks: { color: "#000", padding: p.yTickPad, autoSkip: false, font: { family: sansFont, size: 10, lineHeight: 1 } },
          title: { display: true, text: p.yTitle, color: "#000", padding: { top: p.yTitleX - 5, bottom: 0 }, font: { family: sansFont, size: 10, lineHeight: 1 } },
        },
      },
      plugins: {
        legend: { display: false },
        tooltip: { enabled: false },
        title: {
          display: true, text: p.title, color: "#000", fullSize: false,
          padding: { top: 21 - titleSize / 2, bottom: p.plotTop - p.titleY - titleSize / 2 },
          font: { family: sansFont, size: titleSize, weight: "normal", lineHeight: 1 },
        },
        idlFrame: { outward: p.outward, major: p.major, minor: p.minor, notes: p.notes, noteSize: p.noteSize },
      },
    },
  });
}

const colorTicks = [-6, -5, -4, -3, -2];
const colorLabels = ["10⁻⁶", "10⁻⁵", "10⁻⁴", "10⁻³", "10⁻²"];

function makeColorbar(plotTop, plotBottom) {
  const canvas = document.createElement("canvas");
  const top = plotTop - 10;
  canvas.style.left = "800px";
  canvas.style.top = top + "px";
  canvas.width = 100;
  canvas.height = plotBottom - plotTop + 20;
  document.getElementById("page").appendChild(canvas);
  new Chart(canvas, {
    type: "bar",
    data: {
      labels: ["extinction"],
      datasets: [{
        data: [[-6, -2]], barPercentage: 1, categoryPercentage: 1, borderWidth: 0, inflateAmount: 0,
        backgroundColor: c => {
          const a = c.chart.chartArea;
          if (!a) return "#000";
          const g = c.chart.ctx.createLinearGradient(0, a.bottom, 0, a.top);
          colorStops.forEach(s => g.addColorStop((s[0] + 6) / 4, exColor(s[0])));
          g.addColorStop(3.94 / 4, "#ff0000");
          g.addColorStop(3.94 / 4, "#ffffff");
          g.addColorStop(1, "#ffffff");
          return g;
        },
      }],
    },
    plugins: [{
      id: "barFrame",
      afterDraw(chart) {
        const ctx = chart.ctx, a = chart.chartArea;
        ctx.save();
        ctx.strokeStyle = "#000";
        ctx.strokeRect(a.left, a.top, a.right - a.left, a.bottom - a.top);
        ctx.fillStyle = "#000";
        ctx.font = "9.5px " + sansFont;
        ctx.textAlign = "center";
        ctx.textBaseline = "middle";
        ctx.translate(46, (a.top + a.bottom) / 2);
        ctx.rotate(-Math.PI / 2);
        ctx.fillText("Extinction Cross Section (1/m)", 0, 0);
        ctx.restore();
      },
    }],
    options: {
      responsive: false, animation: false, devicePixelRatio: 1,
      layout: { padding: { left: 7, top: 10, bottom: 10 } },
      scales: {
        x: { display: false },
        y: {
          position: "right", min: -6, max: -2,
          afterFit: s => { s.width = 83.5; },
          afterBuildTicks: s => { s.ticks = colorTicks.map(v => ({ value: v })); },
          border: { display: false },
          grid: { color: "#000", z: 1, drawTicks: false },
          ticks: { color: "#000", padding: 3, font: { family: sansFont, size: 10, lineHeight: 1 }, callback: v => colorLabels[colorTicks.indexOf(v)] },
        },
      },
      plugins: { legend: { display: false }, tooltip: { enabled: false } },
    },
  });
}

makePanel({
  type: "scatter", titleY: 30, plotTop: 39.5, plotBottom: 209.5, xTitleY: 233, xTitleSize: 10.5, titleSize: 12.1,
  title: "CPL Layer and Ground Heights AIRCRAFT SORTIE=  12634  DATE=  24feb12  Segment=  03",
  yTitle: "Height AMSL (km)", yTitleX: 57, yMin: -.41, yMax: 18, major: heightMajor, minor: heightMinor, yTickPad: 3.5, xTickPad: 6.5, outward: false,
  noteSize: 9.5,
  notes: layerNames.map((name, i) => ({ text: name, color: layerColors[i], y: 50, square: i > 3, dot: [135, 243, 342, 396, 455, 572][i], textX: [144, 252.7, 351.7, 405.7, 465, 581.7][i], w: i === 3 ? 2 : 3 })),
  datasets: [
    dotSet(pblDots, layerColors[2], 2),
    dotSet(aerosolDots, layerColors[4], 2.2),
    ...lineSets(cloudLowTop, layerColors[3], 2.8),
    ...lineSets(cloudLowBase, layerColors[3], 2.8),
    ...lineSets(cloudHighTop, layerColors[3], 2.8),
    ...lineSets(cloudHighBase, layerColors[3], 2.8),
    ...lineSets([cloudBlob], layerColors[3], 6),
    dotSet(cloudDots, layerColors[3], 2),
    dotSet(groundDots, layerColors[1], 1.8),
    ...lineSets(rollSegments, layerColors[5], 3),
  ],
});

function curtainSets(iLow, iUp, iVal, specVal, stripes, sparse) {
  return [
    { type: "scatter", data: xy(sparse), pointStyle: "rect", pointRadius: 1.2, pointBorderWidth: 0, pointBackgroundColor: sparse.map(r => exColor(r[2])) },
    barSet(stripes, 1, 2, 3, 1.6),
    barSet(lowSpecks, 1, 2, specVal, 3),
    barSet(cloudSpecks, 1, 2, specVal, 3),
    barSet(lowLayer, 2, 3, iUp, 5),
    barSet(lowLayer, 1, 2, iLow, 5),
    barSet(cloudCore, 1, 2, iVal, 5),
    barSet(cloudOuter, 1, 2, iVal, 5),
  ];
}

makePanel({
  type: "bar", titleY: 251, plotTop: 260.5, plotBottom: 451.5, xTitleY: 477, xTitleSize: 9.5, titleSize: 11.5,
  title: "CPL Extinction Retrieval for 24feb12      532nm",
  yTitle: "Altitude AMSL (km)", yTitleX: 45, yMin: -.56, yMax: 18, major: heightMajor, minor: heightMinor, yTickPad: 16, xTickPad: 9, outward: true,
  noteSize: 8.5,
  notes: [{ text: "= INVALID DATA", color: "#000", y: 275.5 - 251 + 21, dot: 135, textX: 145, w: 2 }],
  datasets: curtainSets(4, 5, 3, 3, stripes532, sparse532),
});
makePanel({
  type: "bar", titleY: 493.5, plotTop: 502.5, plotBottom: 693.5, xTitleY: 719, xTitleSize: 9.5, titleSize: 11.5,
  title: "CPL Extinction Retrieval for 24feb12      1064nm",
  yTitle: "Altitude AMSL (km)", yTitleX: 45, yMin: -.5, yMax: 18, major: heightMajor, minor: heightMinor, yTickPad: 16, xTickPad: 8.5, outward: true,
  noteSize: 8.5,
  notes: [{ text: "= INVALID DATA", color: "#000", y: 515.5 - 493.5 + 21, dot: 135, textX: 145, w: 2 }],
  datasets: curtainSets(6, 7, 4, 4, stripes1064, sparse1064),
});
makePanel({
  type: "scatter", titleY: 736, plotTop: 746.5, plotBottom: 919.5, xTitleY: 944, xTitleSize: 10.5, titleSize: 12.1,
  title: "CPL Total Optical Depth by Wavelength AIRCRAFT SORTIE=  12634  DATE=  24feb12",
  yTitle: "Particulate Optical Depth", yTitleX: 62, yMin: -.094, yMax: 3.5, major: depthMajor, minor: depthMinor, yTickPad: 3.5, xTickPad: 6.5, outward: false,
  noteSize: 10,
  notes: [
    { text: "532 nm", color: "#00ff00", y: 760 - 736 + 21, dot: 135, textX: 144 },
    { text: "1064 nm", color: "#ff0000", y: 760 - 736 + 21, dot: 198, textX: 208 },
  ],
  datasets: [
    dotSet(depth1064Dots, "#ff0000", 2.4),
    ...lineSets(depth1064Bands, "#ff0000", 3.2),
    dotSet(depth532Dots, "#00ff00", 2.2),
    ...lineSets(depth532Bands, "#00ff00", 3.5),
  ],
});
makeColorbar(260.5, 451.5);
makeColorbar(502.5, 693.5);
</script>
</body>
</html>
